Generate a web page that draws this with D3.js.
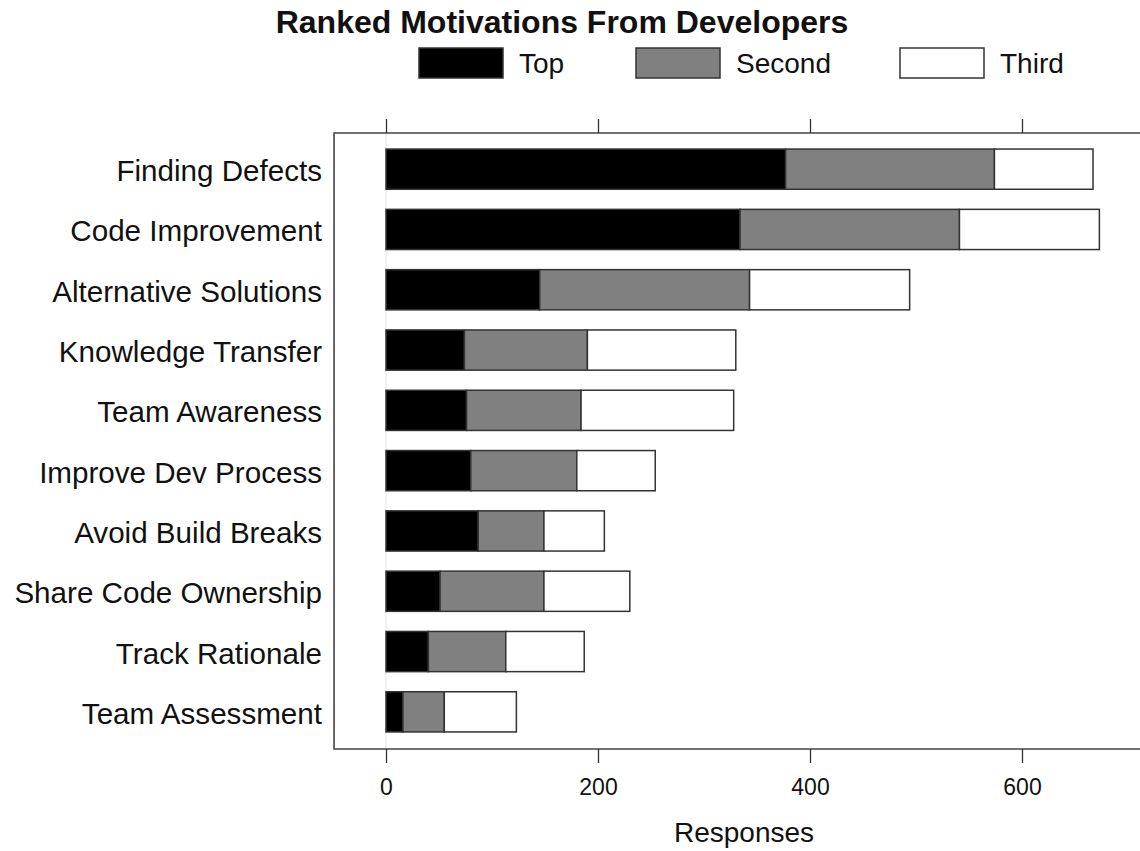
<!DOCTYPE html>
<html>
<head>
<meta charset="utf-8">
<script src="https://d3js.org/d3.v7.min.js"></script>
<style>
  body { margin: 0; background: #fff; }
  svg text { font-family: "Liberation Sans", Arial, sans-serif; fill: #111; }
</style>
</head>
<body>
<svg id="chart" width="1140" height="851"></svg>
<script>
const categories = ["Finding Defects", "Code Improvement", "Alternative Solutions", "Knowledge Transfer",
  "Team Awareness", "Improve Dev Process", "Avoid Build Breaks", "Share Code Ownership",
  "Track Rationale", "Team Assessment"];
const seriesNames = ["Top", "Second", "Third"];
const topValues    = [377, 334, 145, 74, 76, 80, 87, 51, 40, 16];
const secondValues = [197, 207, 198, 116, 108, 100, 62, 98, 73, 39];
const thirdValues  = [93, 132, 151, 140, 144, 74, 57, 81, 74, 68];
const xTicks = [0, 200, 400, 600];
const colors = ["#000000", "#808080", "#ffffff"];

const svg = d3.select("#chart");

const x = d3.scaleLinear().domain([0, 600]).range([386, 1022]);
const y = d3.scaleBand().domain(categories).range([139, 742]).paddingInner(1/3).paddingOuter(1/6);

const frameTop = 133, frameBottom = 749, frameLeft = x(-49), frameRight = 1160;

// faint zero line
svg.append("line").attr("x1", x(0)).attr("x2", x(0)).attr("y1", frameTop).attr("y2", frameBottom)
  .attr("stroke", "#e2e2e2").attr("stroke-width", 1);

// bars
const stackData = categories.map((c, i) => ({ cat: c, Top: topValues[i], Second: secondValues[i], Third: thirdValues[i] }));
const stacked = d3.stack().keys(seriesNames)(stackData);
stacked.forEach((layer, si) => {
  svg.append("g").selectAll("rect").data(layer).join("rect")
    .attr("x", d => x(d[0]))
    .attr("y", d => y(d.data.cat))
    .attr("width", d => x(d[1]) - x(d[0]))
    .attr("height", y.bandwidth())
    .attr("fill", colors[si])
    .attr("stroke", "#333")
    .attr("stroke-width", 1.5);
});

// frame
svg.append("path")
  .attr("d", `M${frameRight},${frameTop}H${frameLeft}V${frameBottom}H${frameRight}`)
  .attr("fill", "none").attr("stroke", "#444").attr("stroke-width", 1.6);

// top ticks
const topAxis = d3.axisTop(x).tickValues(xTicks).tickSize(14).tickFormat("");
const gTop = svg.append("g").attr("transform", `translate(0,${frameTop})`).call(topAxis);
gTop.select(".domain").remove();
gTop.selectAll("line").attr("stroke", "#333").attr("stroke-width", 1.3);

// bottom axis
const bottomAxis = d3.axisBottom(x).tickValues(xTicks).tickSize(14).tickFormat(d3.format("d"));
const gBot = svg.append("g").attr("transform", `translate(0,${frameBottom})`).call(bottomAxis);
gBot.select(".domain").remove();
gBot.selectAll("line").attr("stroke", "#333").attr("stroke-width", 1.3);
gBot.selectAll(".tick text")
  .attr("y", 46).attr("dy", 0)
  .attr("font-size", 23)
  .attr("font-family", "Liberation Sans, Arial, sans-serif")
  .attr("fill", "#111");

// category labels
svg.append("g").selectAll("text").data(categories).join("text")
  .attr("x", 322)
  .attr("y", d => y(d) + y.bandwidth() / 2 + 12)
  .attr("text-anchor", "end")
  .attr("font-size", 29.6)
  .text(d => d);

// x title
svg.append("text")
  .attr("x", 744).attr("y", 842)
  .attr("text-anchor", "middle").attr("font-size", 28).text("Responses");

// title
svg.append("text")
  .attr("x", 562).attr("y", 33)
  .attr("text-anchor", "middle").attr("font-size", 32).attr("font-weight", "bold")
  .text("Ranked Motivations From Developers");

// legend
const legendX = [419, 636, 900];
const lg = svg.append("g").selectAll("g").data(seriesNames).join("g")
  .attr("transform", (d, i) => `translate(${legendX[i]},48)`);
lg.append("rect").attr("width", 84).attr("height", 30)
  .attr("fill", (d, i) => colors[i]).attr("stroke", "#333").attr("stroke-width", 1.5);
lg.append("text")
  .attr("x", 100).attr("y", 25)
  .attr("font-size", 28).text(d => d);
</script>
</body>
</html>
